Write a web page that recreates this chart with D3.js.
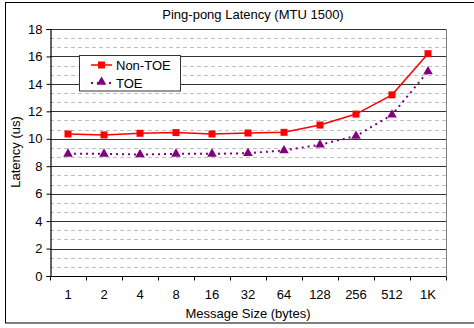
<!DOCTYPE html>
<html>
<head>
<meta charset="utf-8">
<script src="https://cdn.jsdelivr.net/npm/d3@7"></script>
<style>
  body { margin: 0; background: #fff; }
  svg { display: block; font-family: "Liberation Sans", Arial, sans-serif; }
</style>
</head>
<body>
<svg id="chart" width="474" height="328"></svg>
<script>
// Message sizes and measured latencies (microseconds)
const sizes = ["1", "2", "4", "8", "16", "32", "64", "128", "256", "512", "1K"];
const nonToe = [10.35, 10.28, 10.4, 10.45, 10.35, 10.42, 10.47, 11.0, 11.8, 13.2, 16.2];
const toe = [8.9, 8.9, 8.85, 8.9, 8.9, 8.95, 9.15, 9.57, 10.2, 11.75, 14.9];
const yTicks = [0, 2, 4, 6, 8, 10, 12, 14, 16, 18];
const minorTicks = d3.range(0, 18.01, 2 / 3).filter(v => Math.abs(v / 2 - Math.round(v / 2)) > 0.01);

const svg = d3.select("#chart");
const m = { left: 50, right: 446, top: 29, bottom: 276 };

// outer frame
svg.append("rect").attr("x", 5.5).attr("y", 2.5).attr("width", 480).attr("height", 320.5)
  .attr("fill", "#fff").attr("stroke", "#000").attr("stroke-width", 1);

const x = d3.scaleBand().domain(sizes).range([m.left, m.right]);
const y = d3.scaleLinear().domain([0, 18]).range([m.bottom, m.top]);

// minor grid
svg.append("g").selectAll("line").data(minorTicks).join("line")
  .attr("x1", m.left).attr("x2", m.right)
  .attr("y1", d => Math.round(y(d)) + 0.5).attr("y2", d => Math.round(y(d)) + 0.5)
  .attr("stroke", "#c0c0c0").attr("stroke-dasharray", "4,3");

// major grid
svg.append("g").selectAll("line").data(yTicks.slice(1)).join("line")
  .attr("x1", m.left).attr("x2", m.right)
  .attr("y1", d => Math.round(y(d)) + 0.5).attr("y2", d => Math.round(y(d)) + 0.5)
  .attr("stroke", "#333").attr("stroke-width", 1.2);

// plot area right border
svg.append("line").attr("x1", m.right + 0.5).attr("x2", m.right + 0.5)
  .attr("y1", m.top).attr("y2", m.bottom).attr("stroke", "#808080");

// y axis
const yAxis = svg.append("g").attr("transform", `translate(${m.left + 0.5},0)`)
  .call(d3.axisLeft(y).tickValues(yTicks).tickSize(4).tickPadding(4));
yAxis.select(".domain").attr("stroke", "#000").attr("stroke-width", 1.2);
yAxis.selectAll("text").attr("font-size", 13).attr("fill", "#000")
  .attr("font-family", "Liberation Sans, Arial, sans-serif");

// x axis: ticks at category boundaries
const xg = svg.append("g").attr("transform", `translate(0,${m.bottom + 0.5})`);
xg.append("line").attr("x1", m.left).attr("x2", m.right).attr("stroke", "#000").attr("stroke-width", 1.2);
const bounds = sizes.map(s => x(s)).concat([m.right]);
xg.selectAll("line.tk").data(bounds).join("line").attr("class", "tk")
  .attr("x1", d => Math.round(d) + 0.5).attr("x2", d => Math.round(d) + 0.5)
  .attr("y1", 0).attr("y2", 4).attr("stroke", "#000");
xg.selectAll("text").data(sizes).join("text")
  .attr("x", d => x(d) + x.bandwidth() / 2).attr("y", 22)
  .attr("text-anchor", "middle").attr("font-size", 13).text(d => d);

// series
const cx = d => x(d) + x.bandwidth() / 2;
const line = d3.line().x(d => cx(d[0])).y(d => y(d[1]));
const redPts = sizes.map((s, i) => [s, nonToe[i]]);
const purPts = sizes.map((s, i) => [s, toe[i]]);

svg.append("path").datum(purPts).attr("d", line).attr("fill", "none")
  .attr("stroke", "#800080").attr("stroke-width", 2).attr("stroke-dasharray", "2,4");
svg.append("path").datum(redPts).attr("d", line).attr("fill", "none")
  .attr("stroke", "#ff0000").attr("stroke-width", 1.5);

const tri = d3.symbol().type(d3.symbolTriangle).size(40);
svg.append("g").selectAll("path").data(purPts).join("path")
  .attr("transform", d => `translate(${cx(d[0])},${y(d[1])})`)
  .attr("d", tri).attr("fill", "#800080");
svg.append("g").selectAll("rect").data(redPts).join("rect")
  .attr("x", d => cx(d[0]) - 3.5).attr("y", d => y(d[1]) - 3.5)
  .attr("width", 7).attr("height", 7).attr("fill", "#ff0000");

// legend
const lg = svg.append("g");
lg.append("rect").attr("x", 79.5).attr("y", 55.5).attr("width", 101).attr("height", 35.5)
  .attr("fill", "#fff").attr("stroke", "#333");
lg.append("line").attr("x1", 91).attr("x2", 112).attr("y1", 65).attr("y2", 65)
  .attr("stroke", "#ff0000").attr("stroke-width", 1.5);
lg.append("rect").attr("x", 98).attr("y", 61.5).attr("width", 7).attr("height", 7).attr("fill", "#ff0000");
lg.append("text").attr("x", 116).attr("y", 70).attr("font-size", 13).text("Non-TOE");
lg.append("line").attr("x1", 91).attr("x2", 112).attr("y1", 83).attr("y2", 83)
  .attr("stroke", "#800080").attr("stroke-width", 2).attr("stroke-dasharray", "2,4");
lg.append("path").attr("transform", "translate(101.5,82)").attr("d", tri).attr("fill", "#800080");
lg.append("text").attr("x", 116).attr("y", 88).attr("font-size", 13).text("TOE");

// titles
svg.append("text").attr("x", 253).attr("y", 19).attr("text-anchor", "middle")
  .attr("font-size", 13).text("Ping-pong Latency (MTU 1500)");
svg.append("text").attr("x", 248).attr("y", 318).attr("text-anchor", "middle")
  .attr("font-size", 13).text("Message Size (bytes)");
svg.append("text").attr("transform", "translate(20,152) rotate(-90)").attr("text-anchor", "middle")
  .attr("font-size", 13).text("Latency (us)");
</script>
</body>
</html>
